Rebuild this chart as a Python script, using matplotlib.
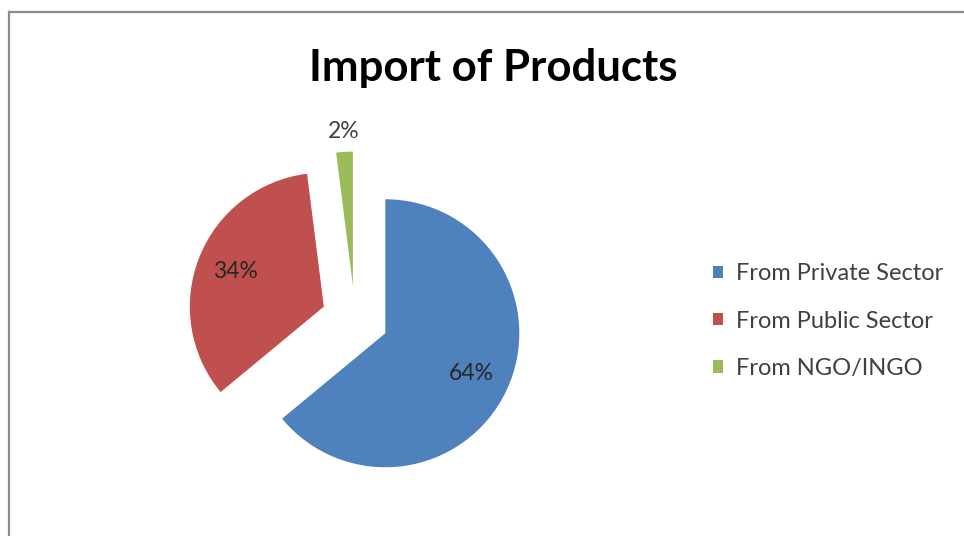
import matplotlib
matplotlib.use('Agg')
import matplotlib.pyplot as plt
from matplotlib.lines import Line2D
import numpy as np

# chart data
sources = ['From Private Sector', 'From Public Sector', 'From NGO/INGO']
shares = [64, 34, 2]
colors = ['#4F81BD', '#C0504D', '#9BBB59']
title = 'Import of Products'

plt.rcParams['font.family'] = ['Lato', 'DejaVu Sans']

W, H = 964, 536
fig = plt.figure(figsize=(W / 100, H / 100), dpi=100)
fig.patch.set_facecolor('white')

# pie centre and radius in pixels
cx, cy, r_px = 355, 319, 134
half = 200
ax = fig.add_axes([(cx - half) / W, (H - cy - half) / H, 2 * half / W, 2 * half / H])

wedges, texts, autotexts = ax.pie(
    shares, colors=colors, startangle=90, counterclock=False,
    explode=[0.25] * len(shares), radius=1.0,
    autopct='%d%%', pctdistance=0.71,
    wedgeprops=dict(linewidth=0),
    textprops=dict(fontsize=16.5, color='#262626'))
ax.set_xlim(-half / r_px, half / r_px)
ax.set_ylim(-half / r_px, half / r_px)
ax.set_aspect('equal')
ax.axis('off')

# the small slice gets its label outside the wedge
w = wedges[2]
mid = np.deg2rad((w.theta1 + w.theta2) / 2)
x0, y0 = w.center
autotexts[2].set_position((x0 + 1.15 * np.cos(mid), y0 + 1.15 * np.sin(mid)))
autotexts[2].set_color('#404040')

fig.text(493 / W, 1 - 68 / H, title, ha='center', va='center',
         fontsize=31.5, fontweight='bold', color='#000000')

leg = fig.legend(wedges, sources, loc='center left',
                 bbox_to_anchor=(713 / W, 1 - 321 / H),
                 bbox_transform=fig.transFigure,
                 frameon=False, fontsize=17, borderpad=0, borderaxespad=0,
                 handlelength=0.42, handleheight=0.42, handletextpad=0.55,
                 labelspacing=1.12)
for t in leg.get_texts():
    t.set_color('#404040')

# chart area border (top and left edges)
fig.add_artist(Line2D([9 / W, 9 / W], [0, 1 - 12 / H], transform=fig.transFigure,
                      color='#8c8c8c', lw=1.6))
fig.add_artist(Line2D([9 / W, 1], [1 - 12 / H, 1 - 12 / H], transform=fig.transFigure,
                      color='#8c8c8c', lw=1.6))

fig.savefig('out.png', dpi=100, facecolor='white')
